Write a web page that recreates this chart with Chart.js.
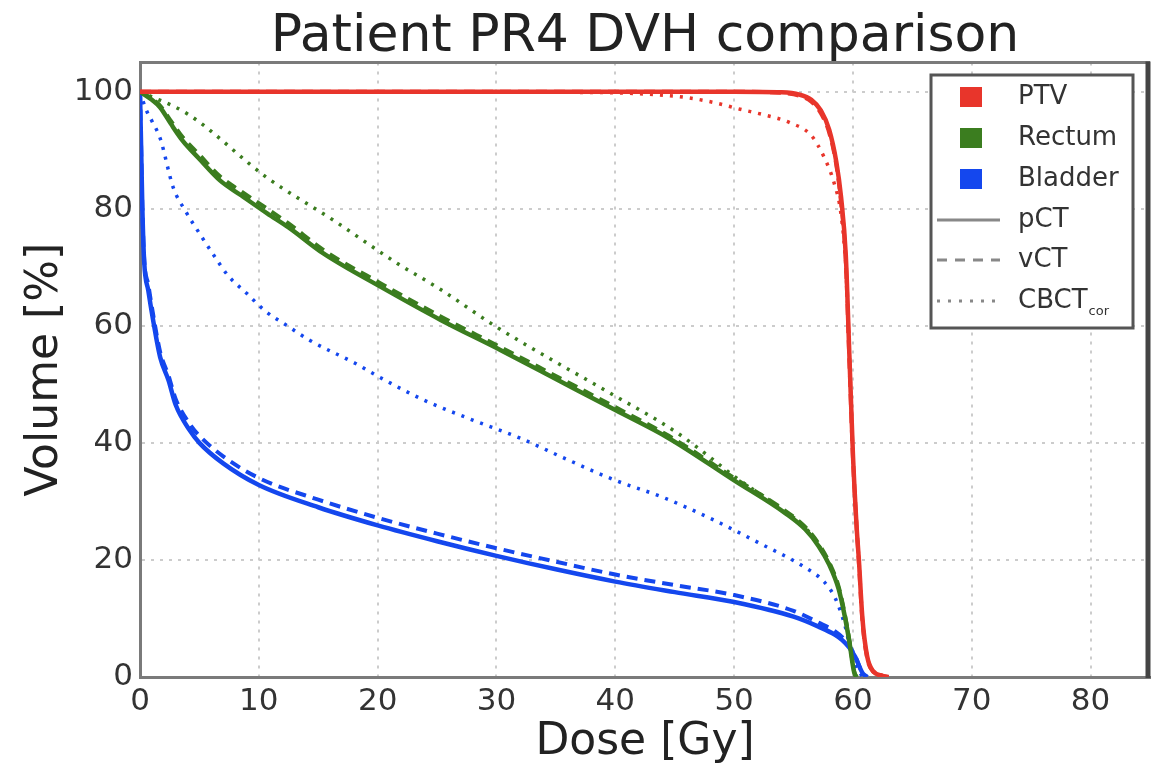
<!DOCTYPE html>
<html>
<head>
<meta charset="utf-8">
<title>Patient PR4 DVH comparison</title>
<script src="https://cdn.jsdelivr.net/npm/chart.js@4.4.1/dist/chart.umd.min.js"></script>
<style>
    html, body { margin: 0; padding: 0; background: #fff; }
    #wrap { width: 1155px; height: 769px; }
</style>
</head>
<body>
<div id="wrap"><canvas id="dvhChart" width="1155" height="769"></canvas></div>
<script>
        // axis ticks
        const doseTicks = [0, 10, 20, 30, 40, 50, 60, 70, 80];
        const volumeTicks = [0, 20, 40, 60, 80, 100];

        // PTV
        const ptvPctDose = [0, 10, 20, 30, 40, 50, 54, 55.5, 56.5, 57.3, 58, 58.6, 59, 59.4, 59.7, 60, 60.3, 60.5, 60.8, 61.2, 61.7, 62.5, 63];
        const ptvPctVol  = [100, 100, 100, 100, 100, 100, 99.9, 99.5, 98.6, 96.8, 93.5, 88, 82, 72, 55, 38, 26, 20, 10, 3.5, 1, 0.2, 0];
        const ptvVctDose = [0, 10, 20, 30, 40, 50, 54, 55.5, 56.5, 57.3, 58, 58.6, 59, 59.4, 59.7, 60, 60.3, 60.5, 60.8, 61.2, 61.7, 62.5, 63];
        const ptvVctVol  = [100, 100, 100, 100, 100, 100, 99.8, 99.3, 98.3, 96.3, 93, 87.5, 81, 71, 54, 37.5, 26, 19.5, 9.5, 3.2, 0.9, 0.2, 0];
        const ptvCbDose  = [0, 10, 20, 30, 35, 40, 44, 46, 48.4, 50.5, 52.6, 54.7, 56.5, 57.6, 58.4, 59, 59.4, 59.7, 60, 60.3, 60.5, 60.8, 61.2, 61.7, 62.5, 63];
        const ptvCbVol   = [100, 100, 100, 100, 99.9, 99.8, 99.4, 99, 98.1, 97, 96, 94.7, 92.5, 88.7, 84.5, 79, 70, 55, 38, 26, 20, 10, 3.5, 1, 0.2, 0];

        // Rectum
        const rectumPctDose = [0, 1, 1.7, 2.6, 3.6, 5, 6.75, 8.5, 10.7, 12.5, 15.4, 20.3, 25.3, 30.4, 35.2, 40, 44.5, 50, 54.3, 56, 57.1, 58, 58.8, 59.3, 59.7, 60.1, 60.3];
        const rectumPctVol  = [100, 98.6, 97.3, 94.5, 91.6, 88.5, 84.8, 82.3, 79.2, 76.8, 72.4, 66.6, 61, 55.8, 50.7, 45.6, 40.8, 33.6, 28, 25.2, 22.4, 19.2, 15, 10.5, 6, 0.8, 0];
        const rectumVctDose = [0, 1, 1.7, 2.6, 3.6, 5, 6.75, 8.5, 10.7, 12.5, 15.4, 20.3, 25.3, 30.4, 35.2, 40, 44.5, 50, 54.3, 56, 57.1, 58, 58.8, 59.3, 59.7, 60.1, 60.3];
        const rectumVctVol  = [100, 98.8, 97.6, 95, 92.2, 89.2, 85.5, 83, 80, 77.5, 73, 67.2, 61.6, 56.3, 51.2, 46.1, 41.2, 34, 28.4, 25.6, 22.8, 19.6, 15.4, 10.9, 6.3, 1, 0];
        const rectumCbDose  = [0, 4, 10.7, 16.3, 21.7, 25.3, 30, 35, 40, 45, 48, 50, 54.3, 56, 57.1, 58, 58.8, 59.3, 59.7, 60.1, 60.3];
        const rectumCbVol   = [100, 96.2, 85.3, 78, 70.6, 66.2, 59.8, 53.8, 48, 42, 37.5, 34.3, 28.3, 25.5, 22.6, 19.4, 15.2, 10.6, 6.1, 0.9, 0];

        // Bladder
        const bladderPctDose = [0, 0.1, 0.2, 0.35, 0.7, 1.1, 1.7, 2.4, 3, 4.2, 5, 7, 10, 15, 20, 25, 30, 35, 40, 45, 50, 55, 57.1, 58.5, 59.1, 59.7, 60.2, 60.8, 61.2];
        const bladderPctVol  = [100, 90, 80, 71, 66, 61, 54.6, 50.7, 46.5, 42.1, 40, 36.5, 32.8, 29, 25.9, 23.2, 20.7, 18.4, 16.3, 14.5, 12.8, 10.3, 8.6, 7.2, 6.3, 5, 3.4, 0.7, 0];
        const bladderVctDose = [0, 0.1, 0.2, 0.35, 0.7, 1.1, 1.7, 2.4, 3, 4.2, 5, 7, 10, 15, 20, 25, 30, 35, 40, 45, 50, 55, 57.1, 58.5, 59.1, 59.7, 60.2, 60.8, 61.2];
        const bladderVctVol  = [100, 90, 80, 71.5, 67, 62, 55.5, 51.5, 47.5, 43.2, 41.2, 37.7, 34, 30.3, 27.2, 24.5, 22, 19.7, 17.5, 15.7, 14, 11.3, 9.3, 7.8, 6.8, 5.3, 3.5, 0.7, 0];
        const bladderCbDose  = [0, 0.5, 1, 1.7, 2.8, 3.8, 5, 6.1, 7.4, 9, 10.5, 12.4, 14.3, 18.1, 20, 23.9, 28, 32, 35.9, 40, 44, 48, 52, 55.9, 57.6, 58.5, 59.3, 60, 60.8];
        const bladderCbVol   = [100, 97, 95, 92, 83.6, 79.7, 75.8, 72.4, 68.6, 65.5, 62.6, 60, 57.5, 53.6, 51.4, 47.3, 43.9, 40.8, 37.2, 33.6, 30.7, 27.1, 23, 18.8, 16.2, 13.5, 9, 3, 0];

        const structColors = { PTV: '#e8352b', Rectum: '#3b7d1f', Bladder: '#1447ee' };
        const styleDash = { pCT: [], vCT: [11, 7], CBCT: [3, 7] };
        const styleWidth = { pCT: 4.5, vCT: 4, CBCT: 3.5 };

        function toPoints(dose, vol) {
            return dose.map((d, i) => ({ x: d, y: vol[i] }));
        }

        function makeSet(struct, kind, dose, vol, order) {
            return {
                label: struct + ' ' + kind,
                data: toPoints(dose, vol),
                borderColor: structColors[struct],
                borderWidth: styleWidth[kind],
                borderDash: styleDash[kind],
                pointRadius: 0,
                fill: false,
                cubicInterpolationMode: 'monotone',
                order: order
            };
        }

        const datasets = [
            makeSet('PTV', 'pCT', ptvPctDose, ptvPctVol, 1),
            makeSet('Rectum', 'pCT', rectumPctDose, rectumPctVol, 1),
            makeSet('Bladder', 'pCT', bladderPctDose, bladderPctVol, 1),
            makeSet('PTV', 'vCT', ptvVctDose, ptvVctVol, 2),
            makeSet('Rectum', 'vCT', rectumVctDose, rectumVctVol, 2),
            makeSet('Bladder', 'vCT', bladderVctDose, bladderVctVol, 2),
            makeSet('PTV', 'CBCT', ptvCbDose, ptvCbVol, 3),
            makeSet('Rectum', 'CBCT', rectumCbDose, rectumCbVol, 3),
            makeSet('Bladder', 'CBCT', bladderCbDose, bladderCbVol, 3)
        ];

        const fontFamily = "'DejaVu Sans', sans-serif";

        // frame (top/right) and legend drawn on top of the plot
        const frameAndLegend = {
            id: 'frameAndLegend',
            afterDraw(chart) {
                const ctx = chart.ctx;
                const a = chart.chartArea;
                ctx.save();
                ctx.setLineDash([]);
                ctx.strokeStyle = '#7a7a7a';
                ctx.lineWidth = 3;
                ctx.beginPath();
                ctx.moveTo(a.left, a.top);
                ctx.lineTo(a.right, a.top);
                ctx.stroke();
                ctx.strokeStyle = '#444';
                ctx.lineWidth = 5;
                ctx.beginPath();
                ctx.moveTo(a.right - 2, a.top - 1);
                ctx.lineTo(a.right - 2, a.bottom + 1);
                ctx.stroke();

                // legend box
                const bx = 931, by = 75, bw = 202, bh = 253;
                ctx.fillStyle = '#fff';
                ctx.fillRect(bx, by, bw, bh);
                ctx.strokeStyle = '#555';
                ctx.lineWidth = 3;
                ctx.strokeRect(bx, by, bw, bh);

                ctx.font = '26px ' + fontFamily;
                ctx.textBaseline = 'middle';
                ctx.textAlign = 'left';
                const rows = [97, 138, 179, 220, 260, 301];
                const structs = ['PTV', 'Rectum', 'Bladder'];
                structs.forEach((s, i) => {
                    ctx.fillStyle = structColors[s];
                    ctx.fillRect(960, rows[i] - 10, 22, 20);
                    ctx.fillStyle = '#333';
                    ctx.fillText(s, 1018, rows[i]);
                });
                const kinds = ['pCT', 'vCT', 'CBCT'];
                kinds.forEach((k, i) => {
                    const y = rows[i + 3];
                    ctx.strokeStyle = '#888';
                    ctx.lineWidth = 3;
                    ctx.setLineDash(k === 'pCT' ? [] : (k === 'vCT' ? [10, 8] : [3, 8]));
                    ctx.beginPath();
                    ctx.moveTo(937, y);
                    ctx.lineTo(1000, y);
                    ctx.stroke();
                    ctx.setLineDash([]);
                    ctx.fillStyle = '#333';
                    ctx.font = '26px ' + fontFamily;
                    ctx.fillText(k, 1018, y);
                    if (k === 'CBCT') {
                        const w = ctx.measureText(k).width;
                        ctx.font = '13px ' + fontFamily;
                        ctx.fillText('cor', 1018 + w + 1, y + 11);
                    }
                });
                ctx.restore();
            }
        };

        new Chart(document.getElementById('dvhChart'), {
            type: 'line',
            data: { datasets: datasets },
            options: {
                responsive: false,
                animation: false,
                layout: { padding: { left: 0, right: 5, top: 0, bottom: 0 } },
                plugins: {
                    legend: { display: false },
                    tooltip: { enabled: false },
                    title: {
                        display: true,
                        fullSize: false,
                        text: 'Patient PR4 DVH comparison',
                        color: '#222',
                        font: { family: fontFamily, size: 52, weight: 'normal', lineHeight: 0.95 },
                        padding: { top: 13, bottom: 0 }
                    }
                },
                scales: {
                    x: {
                        type: 'linear',
                        min: 0,
                        max: 85,
                        afterBuildTicks: (scale) => { scale.ticks = doseTicks.map(v => ({ value: v })); },
                        afterFit: (scale) => { scale.height = 92; },
                        ticks: {
                            color: '#333',
                            font: { family: fontFamily, size: 31 },
                            padding: 6,
                            maxRotation: 0
                        },
                        grid: {
                            color: '#cccccc',
                            lineWidth: 2,
                            drawTicks: false
                        },
                        border: { color: '#7a7a7a', width: 3, dash: [3, 6] },
                        title: {
                            display: true,
                            text: 'Dose [Gy]',
                            color: '#222',
                            font: { family: fontFamily, size: 44 },
                            padding: { top: 0, bottom: 0 }
                        }
                    },
                    y: {
                        type: 'linear',
                        min: 0,
                        max: 105,
                        afterBuildTicks: (scale) => { scale.ticks = volumeTicks.map(v => ({ value: v })); },
                        afterFit: (scale) => { scale.width = 140; },
                        ticks: {
                            color: '#333',
                            font: { family: fontFamily, size: 31 },
                            padding: 7
                        },
                        grid: {
                            color: '#cccccc',
                            lineWidth: 2,
                            drawTicks: false
                        },
                        border: { color: '#7a7a7a', width: 3, dash: [3, 6] },
                        title: {
                            display: true,
                            text: 'Volume [%]',
                            color: '#222',
                            font: { family: fontFamily, size: 44 },
                            padding: { top: 19, bottom: 0 }
                        }
                    }
                }
            },
            plugins: [frameAndLegend]
        });
</script>
</body>
</html>
